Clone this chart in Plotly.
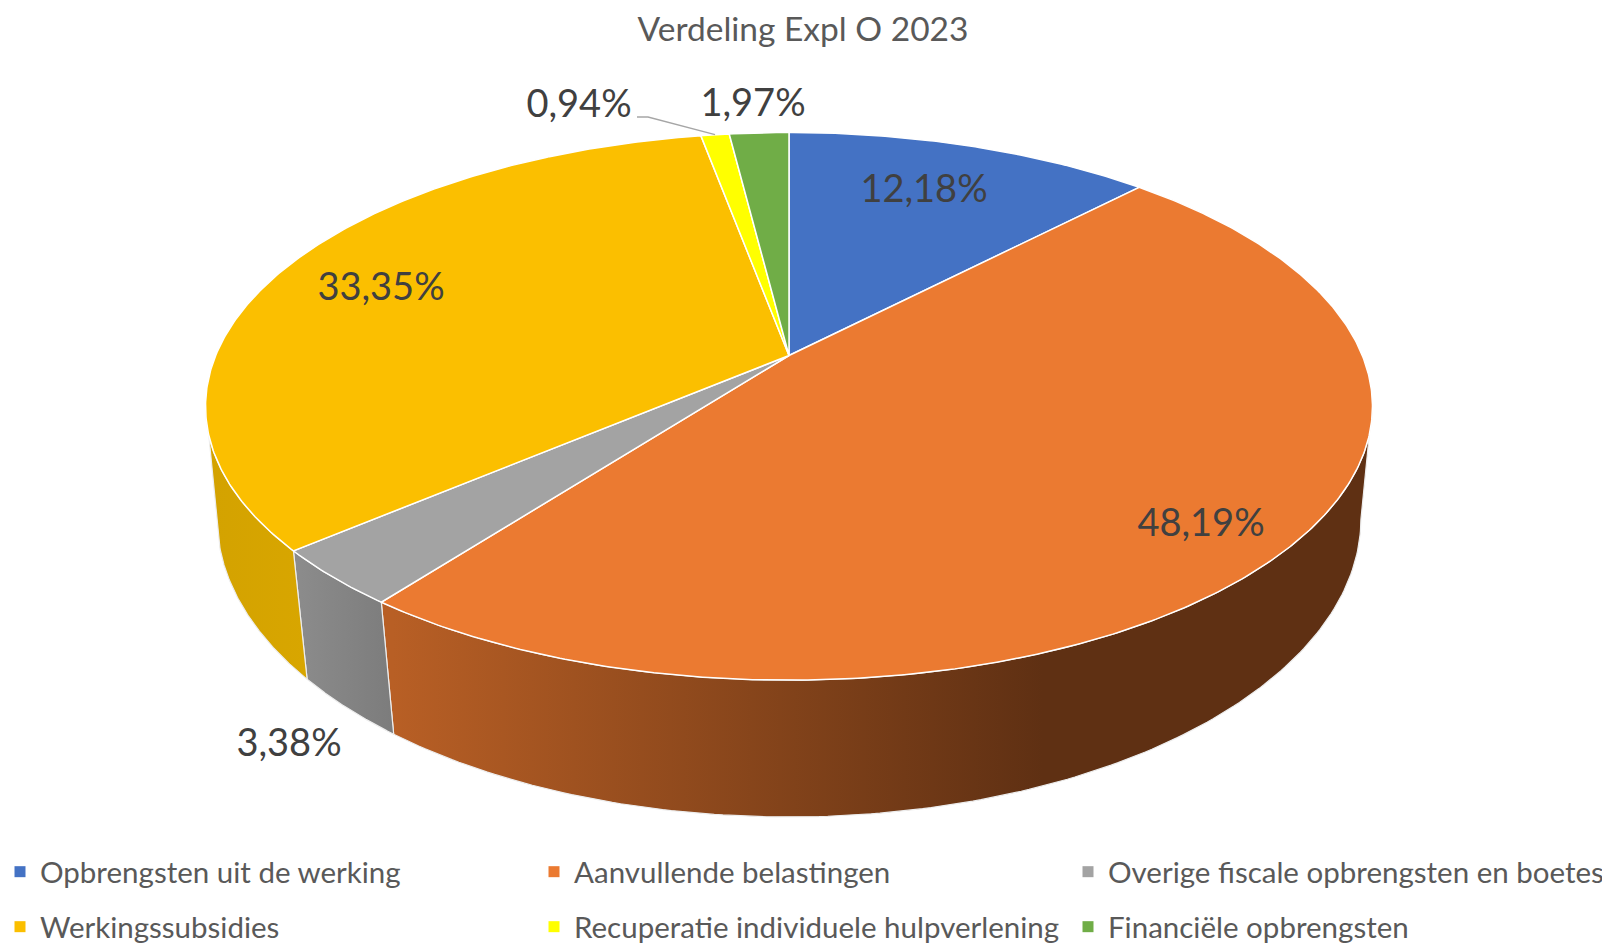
import numpy as np
import plotly.graph_objects as go

title = "Verdeling Expl O 2023"
categories = ["Opbrengsten uit de werking", "Aanvullende belastingen",
              "Overige fiscale opbrengsten en boetes", "Werkingssubsidies",
              "Recuperatie individuele hulpverlening", "Financiële opbrengsten"]
values = [12.18, 48.19, 3.38, 33.35, 0.94, 1.97]
colors = ["#4472C4", "#EB7A31", "#A3A3A3", "#FBBF00", "#FFFF00", "#70AD47"]

# label centres, in the same pixel-sized axis units
label_x = [924, 1201, 289, 381, 579, 753]
label_y = [192, 526, 746, 290, 107, 106]

W, H = 1611, 943
CX = 789
TOP = dict(y0=355.5, a=573.3, b=264.4, k=0.1857)
BOT = dict(y0=467.5, a=563.5, b=289.7, k=0.171)


def proj(theta_deg, p):
    t = np.radians(theta_deg)
    u, v = np.sin(t), np.cos(t)
    d = 1 + p["k"] * v
    return CX + p["a"] * u / d, p["y0"] - p["b"] * v / d


total = sum(values)
edges = np.concatenate([[0], np.cumsum(values)]) / total * 360
fig = go.Figure()

# side walls: (slice index, visible angle range, gradient)
walls = [
    (1, 100, edges[2], ["#B85F25", "#5F3013"], (393, 1043)),
    (2, edges[2], edges[3], ["#8C8C8C", "#7C7C7C"], (295, 393)),
    (3, edges[3], 260, ["#D3A200", "#D8A600"], (205, 307)),
]
for idx, t0, t1, grad, (g0, g1) in walls:
    th = np.linspace(t0, t1, 160)
    xt, yt = proj(th, TOP)
    xb, yb = proj(th[::-1], BOT)
    fig.add_trace(go.Scatter(
        x=np.r_[xt, xb, xt[0]], y=np.r_[yt, yb, yt[0]],
        mode="lines", fill="toself",
        fillgradient=dict(type="horizontal", start=g0, stop=g1,
                          colorscale=[[0, grad[0]], [1, grad[1]]]),
        line=dict(color="#EDEDED", width=1.2),
        showlegend=False, hoverinfo="skip"))

# top faces
for i, c in enumerate(colors):
    th = np.linspace(edges[i], edges[i + 1], max(int(values[i] * 8), 12))
    xt, yt = proj(th, TOP)
    fig.add_trace(go.Scatter(
        x=np.r_[CX, xt, CX], y=np.r_[TOP["y0"], yt, TOP["y0"]],
        mode="lines", fill="toself", fillcolor=c,
        line=dict(color="#FFFFFF", width=1.5),
        showlegend=False, name=categories[i],
        text=f"{values[i]:.2f}%".replace(".", ","), hoverinfo="name+text"))

# leader line of the small yellow slice
mid = (edges[4] + edges[5]) / 2
lx, ly = proj(mid, TOP)
fig.add_trace(go.Scatter(x=[637, 648, lx], y=[117, 117, ly], mode="lines",
                         line=dict(color="#A6A6A6", width=1.3),
                         showlegend=False, hoverinfo="skip"))

# data labels
fig.add_trace(go.Scatter(
    x=label_x, y=label_y, mode="text",
    text=[f"{v:.2f}%".replace(".", ",") for v in values],
    textposition="middle center",
    textfont=dict(family="Lato", size=38, color="#404040"),
    showlegend=False, hoverinfo="skip"))

# legend entries
for i, (name, c) in enumerate(zip(categories, colors)):
    fig.add_trace(go.Scatter(
        x=[None], y=[None], mode="markers", name=name,
        marker=dict(symbol="square", size=11, color=c),
        legend="legend" if i < 3 else "legend2"))

legend_common = dict(orientation="h", xanchor="left", yanchor="middle", x=0,
                     entrywidth=489, entrywidthmode="pixels",
                     bgcolor="rgba(0,0,0,0)", borderwidth=0,
                     font=dict(family="Lato", size=29.5, color="#595959"))
fig.update_layout(
    width=W, height=H, autosize=False,
    margin=dict(l=0, r=0, t=0, b=0, autoexpand=False),
    paper_bgcolor="#FFFFFF", plot_bgcolor="#FFFFFF",
    title=dict(text=title, x=803 / W, y=1 - 29 / H, xanchor="center", yanchor="middle",
               font=dict(family="Lato", size=33.5, color="#595959")),
    xaxis=dict(range=[0, W], visible=False, fixedrange=True),
    yaxis=dict(range=[H, 0], visible=False, fixedrange=True),
    legend=dict(y=1 - 872 / H, **legend_common),
    legend2=dict(y=1 - 927 / H, **legend_common),
)
fig.write_html("out.html", config={"displayModeBar": False},
               post_script="document.body.style.margin='0';")
